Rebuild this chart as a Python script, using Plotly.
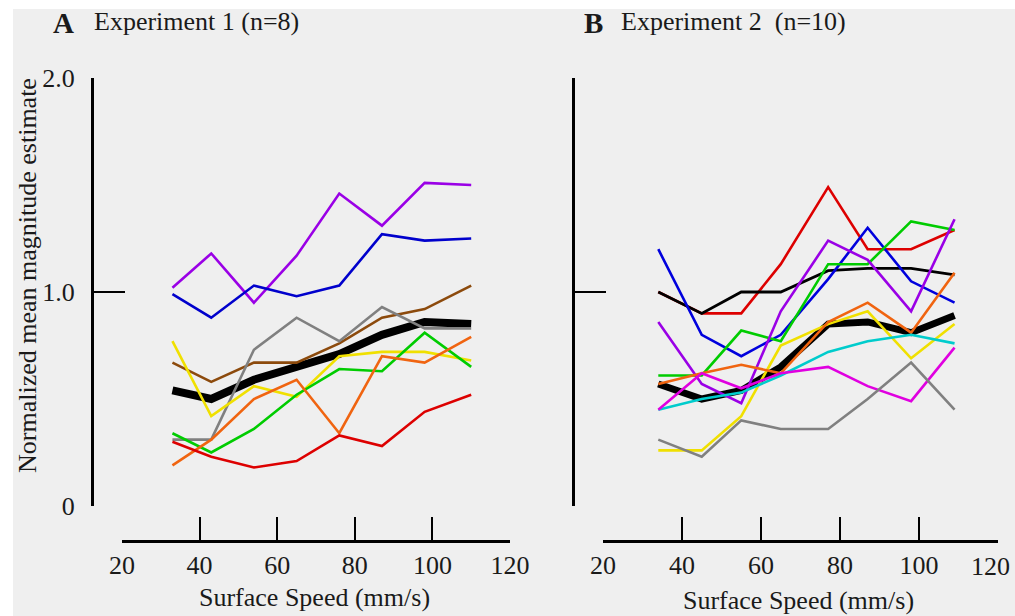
import plotly.graph_objects as go

W, H = 1015, 616

# ---------------- data ----------------
speed_a = [33, 43, 54, 65, 76, 87, 98, 110]
a_purple = [1.02, 1.18, 0.95, 1.17, 1.46, 1.31, 1.51, 1.50]
a_blue = [0.99, 0.88, 1.03, 0.98, 1.03, 1.27, 1.24, 1.25]
a_brown = [0.67, 0.58, 0.67, 0.67, 0.76, 0.88, 0.92, 1.03]
a_gray = [0.31, 0.31, 0.73, 0.88, 0.77, 0.93, 0.83, 0.83]
a_mean = [0.54, 0.50, 0.59, 0.65, 0.71, 0.80, 0.86, 0.85]
a_yellow = [0.77, 0.42, 0.56, 0.51, 0.70, 0.72, 0.72, 0.68]
a_green = [0.34, 0.25, 0.36, 0.52, 0.64, 0.63, 0.81, 0.65]
a_orange = [0.19, 0.31, 0.50, 0.59, 0.34, 0.70, 0.67, 0.79]
a_red = [0.30, 0.23, 0.18, 0.21, 0.33, 0.28, 0.44, 0.52]

speed_b = [34, 45, 55, 65, 77, 87, 98, 109]
b_blue = [1.20, 0.80, 0.70, 0.80, 1.06, 1.30, 1.05, 0.95]
b_red = [1.00, 0.90, 0.90, 1.13, 1.49, 1.20, 1.20, 1.29]
b_black = [1.00, 0.90, 1.00, 1.00, 1.10, 1.11, 1.11, 1.08]
b_green = [0.61, 0.61, 0.82, 0.77, 1.13, 1.13, 1.33, 1.29]
b_purple = [0.86, 0.57, 0.48, 0.91, 1.24, 1.15, 0.91, 1.34]
b_yellow = [0.26, 0.26, 0.42, 0.75, 0.85, 0.91, 0.69, 0.85]
b_orange = [0.57, 0.62, 0.66, 0.62, 0.86, 0.95, 0.81, 1.09]
b_mean = [0.57, 0.50, 0.54, 0.65, 0.85, 0.86, 0.81, 0.89]
b_cyan = [0.45, 0.50, 0.53, 0.61, 0.72, 0.77, 0.80, 0.76]
b_magenta = [0.45, 0.62, 0.55, 0.62, 0.65, 0.56, 0.49, 0.74]
b_gray = [0.31, 0.23, 0.40, 0.36, 0.36, 0.50, 0.67, 0.45]

x_ticks = [20, 40, 60, 80, 100, 120]
x_ticktext = ["20", "40", "60", "80", "100", "120"]
y_ticks = [0, 1, 2]
y_ticktext = ["0", "1.0", "2.0"]

FONT = "Liberation Serif, Times New Roman, serif"

fig = go.Figure()

def add(x, y, color, width, xa, ya):
    fig.add_trace(go.Scatter(x=x, y=y, mode="lines", xaxis=xa, yaxis=ya,
                             line=dict(color=color, width=width),
                             showlegend=False, hoverinfo="skip"))

# Panel A
add(speed_a, a_mean, "#000000", 8, "x", "y")
add(speed_a, a_purple, "#9a00e6", 2.6, "x", "y")
add(speed_a, a_blue, "#0000cc", 2.6, "x", "y")
add(speed_a, a_brown, "#8c4a0c", 2.6, "x", "y")
add(speed_a, a_gray, "#808080", 2.6, "x", "y")
add(speed_a, a_yellow, "#f0e000", 2.6, "x", "y")
add(speed_a, a_green, "#00cc00", 2.6, "x", "y")
add(speed_a, a_orange, "#f06410", 2.6, "x", "y")
add(speed_a, a_red, "#dd0000", 2.6, "x", "y")

# Panel B
add(speed_b, b_mean, "#000000", 7, "x2", "y2")
add(speed_b, b_red, "#dd0000", 2.6, "x2", "y2")
add(speed_b, b_black, "#000000", 2.8, "x2", "y2")
add(speed_b, b_blue, "#0000dd", 2.6, "x2", "y2")
add(speed_b, b_green, "#00cc00", 2.6, "x2", "y2")
add(speed_b, b_purple, "#9a00e6", 2.6, "x2", "y2")
add(speed_b, b_yellow, "#f0e000", 2.6, "x2", "y2")
add(speed_b, b_orange, "#f06410", 2.6, "x2", "y2")
add(speed_b, b_cyan, "#00cccc", 2.6, "x2", "y2")
add(speed_b, b_magenta, "#e000e0", 2.6, "x2", "y2")
add(speed_b, b_gray, "#808080", 2.6, "x2", "y2")

def px(v):
    return v / W

def py(v):
    return 1 - v / H

ydom = [py(506), py(78)]
xpos = py(541)

common_x = dict(range=[20, 120], ticks="inside", ticklen=23,
                tickwidth=1.5, tickcolor="#000", showline=True, linewidth=3,
                linecolor="#000", showgrid=False, zeroline=False, anchor="free",
                position=xpos, tickfont=dict(family=FONT, size=26, color="#1a1a1a"),
                fixedrange=True, automargin=False)
common_y = dict(range=[0, 2], domain=ydom, tickvals=y_ticks, ticktext=y_ticktext,
                ticks="inside", ticklen=31, tickwidth=2, tickcolor="#000",
                showline=True, linewidth=3, linecolor="#000", showgrid=False,
                zeroline=False, anchor="free", ticklabelstandoff=11,
                tickfont=dict(family=FONT, size=26, color="#1a1a1a"), fixedrange=True,
                automargin=False)

# panel B: last tick label (at the page edge) is placed as an annotation below
fig.update_layout(
    width=W, height=H,
    margin=dict(l=0, r=0, t=0, b=0, autoexpand=False),
    paper_bgcolor="#ffffff",
    plot_bgcolor="rgba(0,0,0,0)",
    xaxis=dict(domain=[px(122), px(510)], tickvals=x_ticks, ticktext=x_ticktext,
               **common_x),
    xaxis2=dict(domain=[px(603), px(998)], tickvals=x_ticks,
                ticktext=x_ticktext[:-1] + [""], **common_x),
    yaxis=dict(position=px(92), showticklabels=True, **common_y),
    yaxis2=dict(position=px(573), showticklabels=False, **common_y),
    shapes=[dict(type="rect", xref="paper", yref="paper", x0=px(13), x1=1,
                 y0=0, y1=py(9), fillcolor="#efefef", line=dict(width=0),
                 layer="below")],
)

def ann(text, x, y, size, xanchor="left", angle=0, bold=False):
    fig.add_annotation(text=("<b>%s</b>" % text) if bold else text,
                       x=px(x), y=py(y), xref="paper", yref="paper",
                       xanchor=xanchor, yanchor="middle", showarrow=False,
                       textangle=angle,
                       font=dict(family=FONT, size=size, color="#1a1a1a"))

ann("A", 51, 23, 29, bold=True)
ann("Experiment 1 (n=8)", 92, 22, 26)
ann("B", 582, 23, 29, bold=True)
ann("Experiment 2\u00a0 (n=10)", 619, 22, 26)
ann("Normalized mean magnitude estimate", 27, 276, 26, xanchor="center", angle=-90)
ann("Surface Speed (mm/s)", 314, 597, 26, xanchor="center")
ann("Surface Speed (mm/s)", 798, 600, 26, xanchor="center")
ann(x_ticktext[-1], 990, 566, 26, xanchor="center")

fig.write_html("out.html")
